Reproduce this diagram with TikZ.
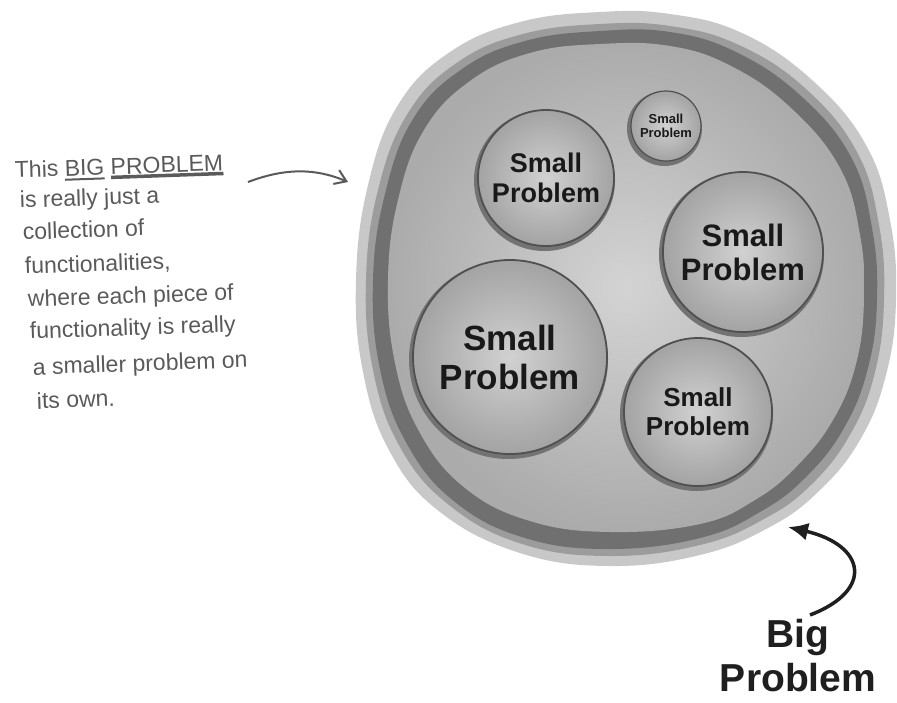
\documentclass[tikz,border=0pt]{standalone}
\usepackage{fontspec}
\setmainfont{Liberation Sans}
\usetikzlibrary{arrows.meta}
\definecolor{halo}{HTML}{C8C8C8}
\definecolor{rimlight}{HTML}{9C9C9C}
\definecolor{rim}{HTML}{707070}
\definecolor{hand}{HTML}{5A5A5A}
\definecolor{ring}{HTML}{505050}
\newcommand\myul[2]{\setbox0\hbox{#2}\rlap{\raisebox{-4.5pt}{\rule{\wd0}{#1}}}\box0\relax}
\begin{document}
\begin{tikzpicture}[x=1pt,y=-1pt,
  hw/.style={anchor=base west, text=hand, font=\fontsize{23}{23}\selectfont, rotate=2, inner sep=0},
  sp/.style={circle, inner sep=0, align=center, text=black!90, shade, inner color=black!18, outer color=black!36, draw=ring, line width=1.8},
  spshadow/.style={fill=black!55}]
\useasboundingbox (0,0) rectangle (897,702);
% big blob
\fill[halo] plot[smooth cycle, tension=0.7] coordinates {(600,12) (520,22) (450,52) (398,105) (368,185) (356,280) (363,372) (390,452) (440,512) (520,553) (610,566) (700,555) (768,528) (818,492) (860,440) (886,375) (896,300) (890,220) (866,145) (812,80) (742,33) (670,14)};
\fill[rimlight] plot[smooth cycle, tension=0.7] coordinates {(600,24) (523,34) (458,62) (408,113) (378,190) (366,280) (373,370) (400,447) (449,505) (522,544) (610,556) (700,545) (764,519) (812,484) (851,433) (875,372) (884,300) (879,225) (857,152) (806,89) (739,45) (670,26)};
\fill[rim] plot[smooth cycle, tension=0.7] coordinates {(600,31) (525,41) (462,69) (413,119) (385,194) (373,280) (380,369) (407,444) (455,502) (525,538) (610,549) (700,538) (760,512) (806,477) (844,428) (868,368) (877,300) (872,228) (851,157) (801,96) (736,52) (670,32)};
\shade[inner color=black!17, outer color=black!33] plot[smooth cycle, tension=0.7] coordinates {(600,44) (530,53) (470,81) (424,130) (398,200) (388,280) (395,363) (420,433) (465,488) (530,521) (610,532) (700,524) (755,500) (797,466) (833,420) (856,364) (864,300) (860,235) (840,168) (791,108) (731,66) (670,46)};
% small problems
\foreach \cx/\cy/\r in {546/178/68, 666/126/35, 743/252/80, 510/357/97, 698/412/74}
  \fill[spshadow] (\cx-1.5,\cy+2.5) circle (\r+2.5);
\node[sp, minimum size=136, font=\bfseries\fontsize{27}{30}\selectfont] (c1) at (546,178) {Small\\Problem};
\node[sp, minimum size=70, line width=1.2, font=\bfseries\fontsize{13}{14}\selectfont] (c2) at (666,126) {Small\\Problem};
\node[sp, minimum size=160, font=\bfseries\fontsize{31}{34}\selectfont] (c3) at (743,252) {Small\\Problem};
\node[sp, minimum size=194, font=\bfseries\fontsize{35}{39}\selectfont] (c4) at (510,357) {Small\\Problem};
\node[sp, minimum size=148, font=\bfseries\fontsize{26}{29}\selectfont] (c5) at (698,412) {Small\\Problem};
% handwritten note
\node[hw] (l1) at (15,178) {This \myul{2pt}{BIG} \myul{3.5pt}{PROBLEM}};
\node[hw] (l2) at (20,208) {is really just a};
\node[hw] (l3) at (23,240) {collection of};
\node[hw] (l4) at (25,274) {functionalities,};
\node[hw] (l5) at (28,307) {where each piece of};
\node[hw] (l6) at (30,339) {functionality is really};
\node[hw] (l7) at (33,375) {a smaller problem on};
\node[hw] (l8) at (37,409) {its own.};
\coordinate (a1s) at (248,182);
\coordinate (a1e) at (348,182);
\draw[hand, line width=2, -{Straight Barb[length=11,width=15]}] (a1s) .. controls (285,168) and (315,168) .. (a1e);
% big problem label
\node[font=\bfseries\fontsize{39}{44}\selectfont, align=center, text=black!88, inner sep=0] (bp) at (798,656) {Big\\Problem};
\coordinate (a2s) at (810,615);
\coordinate (a2e) at (788,527);
\draw[black!88, line width=3.5, -{Latex[length=20,width=18]}] (a2s) .. controls (875,590) and (865,545) .. (a2e);
\end{tikzpicture}
\end{document}
